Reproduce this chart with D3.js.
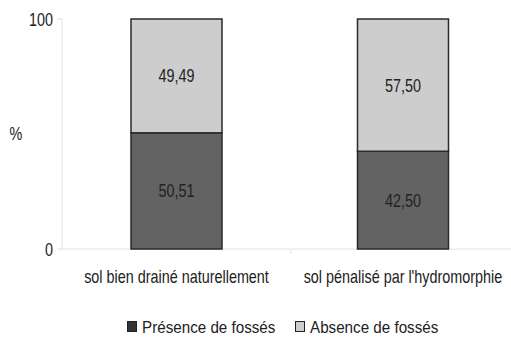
<!DOCTYPE html>
<html><head><meta charset="utf-8">
<script src="https://cdn.jsdelivr.net/npm/d3@7"></script>
<style>body{margin:0;background:#fff}svg{display:block;font-family:"Liberation Sans",Arial,sans-serif}</style>
</head><body><svg id="c" width="511" height="338"></svg>
<script>
const categories = ["sol bien drainé naturellement", "sol pénalisé par l'hydromorphie"];
const presence = [50.51, 42.50];
const absence = [49.49, 57.50];
const seriesNames = ["Présence de fossés", "Absence de fossés"];
const seriesColors = ["#636363", "#cdcdcd"];
const yTicks = [0, 100];
const fmt = v => v.toFixed(2).replace(".", ",");

const svg = d3.select("#c");
const x = d3.scaleBand().domain(categories).range([62, 520]).paddingInner(0).paddingOuter(0);
const y = d3.scaleLinear().domain([0, 100]).range([249, 19]);
const barW = 91;

function label(px, py, txt, opts) {
  const o = Object.assign({size: 18, sx: 0.8, anchor: "middle", fill: "#222"}, opts || {});
  svg.append("text").attr("transform", `translate(${px},${py}) scale(${o.sx},1)`)
    .attr("text-anchor", o.anchor).attr("font-size", o.size).attr("fill", o.fill).text(txt);
}

// axes
svg.append("line").attr("x1", 62).attr("x2", 62).attr("y1", y(100)).attr("y2", y(0)).attr("stroke", "#e2e2e2");
svg.append("line").attr("x1", 62).attr("x2", 511).attr("y1", y(0)).attr("y2", y(0)).attr("stroke", "#e2e2e2");
yTicks.forEach(t => {
  svg.append("line").attr("x1", 57).attr("x2", 62).attr("y1", y(t)).attr("y2", y(t)).attr("stroke", "#e2e2e2");
  label(53, y(t) + 6.5, t, {anchor: "end"});
});
categories.slice(1).forEach(c => {
  svg.append("line").attr("x1", x(c)).attr("x2", x(c)).attr("y1", y(0)).attr("y2", y(0) + 4).attr("stroke", "#e2e2e2");
});
label(16, 140, "%");

const stack = d3.stack().keys([0, 1]).value((d, k) => d[k]);
const rows = categories.map((c, i) => [presence[i], absence[i]]);
const layers = stack(rows);
layers.forEach((layer, k) => {
  layer.forEach((seg, i) => {
    const cx = x(categories[i]) + x.bandwidth() / 2 - (i === 1 ? 2.5 : 0);
    svg.append("rect").attr("x", cx - barW / 2).attr("width", barW)
      .attr("y", y(seg[1])).attr("height", y(seg[0]) - y(seg[1]))
      .attr("fill", seriesColors[k]).attr("stroke", "#2a2a2a").attr("stroke-width", 1.5);
    label(cx, (y(seg[0]) + y(seg[1])) / 2 + 6.5, fmt(k === 0 ? presence[i] : absence[i]));
  });
});

categories.forEach((c, i) => {
  const cx = x(c) + x.bandwidth() / 2 - (i === 1 ? 2.5 : 0);
  label(cx, 283, c);
});

// legend
const legX = [127, 295];
seriesNames.forEach((n, k) => {
  svg.append("rect").attr("x", legX[k] + 0.5).attr("y", 321.5).attr("width", 9).attr("height", 10)
    .attr("fill", k === 0 ? "#333" : seriesColors[1]).attr("stroke", "#222").attr("stroke-width", 1);
  label(legX[k] + 15, 332.5, n, {size: 16, sx: 0.95, anchor: "start"});
});
</script></body></html>
